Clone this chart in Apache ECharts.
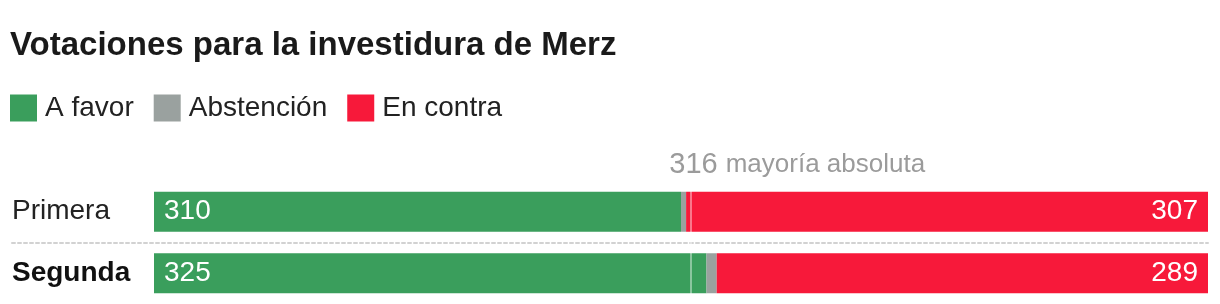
<!DOCTYPE html>
<html><head><meta charset="utf-8">
<script src="https://cdn.jsdelivr.net/npm/echarts@6/dist/echarts.min.js"></script>
<style>html,body{margin:0;padding:0;background:#fff}#c{width:1220px;height:304px}</style>
</head><body><div id="c"></div>
<script>
const titleText = 'Votaciones para la investidura de Merz';
const categories = ['Primera', 'Segunda'];
const seriesNames = ['A favor', 'Abstención', 'En contra'];
const aFavor = [310, 325];
const abstencion = [3, 6];
const enContra = [307, 289];
const totalVotes = 620;
const majority = 316;
const majorityLabel = 'mayoría absoluta';
const colors = ['#3a9e5c', '#9aa19f', '#f7193a'];

const FONT = '"Liberation Sans", Arial, Helvetica, sans-serif';
const chart = echarts.init(document.getElementById('c'), null, {renderer: 'canvas'});
chart.setOption({
  animation: false,
  textStyle: {fontFamily: FONT},
  title: {
    text: titleText, left: 10, top: 29, padding: 0,
    textStyle: {fontFamily: FONT, fontSize: 33, fontWeight: 'bold', color: '#1a1a1a'}
  },
  legend: {
    left: 10, top: 94, padding: 0, icon: 'rect', itemWidth: 27, itemHeight: 27, itemGap: 20,
    data: seriesNames,
    textStyle: {fontFamily: FONT, fontSize: 28, color: '#222', padding: [0, 0, 0, 3]}
  },
  grid: [
    {left: 154, right: 12, top: 181, height: 124, containLabel: false},
    {left: 12, right: 12, top: 243, height: 10}
  ],
  xAxis: [
    {type: 'value', min: 0, max: totalVotes, show: false, gridIndex: 0},
    {type: 'value', min: 0, max: 1, gridIndex: 1, position: 'top',
     axisLine: {show: true, onZero: false, lineStyle: {color: '#d2d2d2', width: 2, type: [3, 3]}},
     axisTick: {show: false}, axisLabel: {show: false}, splitLine: {show: false}}
  ],
  yAxis: [
    {type: 'category', data: categories, inverse: true, gridIndex: 0,
     axisLine: {show: false}, axisTick: {show: false}, splitLine: {show: false},
     axisLabel: {
       align: 'left', margin: 142,
       formatter: function (v, i) { return i === 1 ? '{b|' + v + '}' : '{r|' + v + '}'; },
       rich: {
         r: {fontFamily: FONT, fontSize: 28, color: '#222'},
         b: {fontFamily: FONT, fontSize: 28, fontWeight: 'bold', color: '#111'}
       }
     }},
    {type: 'value', gridIndex: 1, min: 0, max: 1, show: false}
  ],
  series: [
    {name: seriesNames[0], type: 'bar', stack: 'v', data: aFavor, barWidth: 40,
     itemStyle: {color: colors[0]},
     label: {show: true, position: 'insideLeft', distance: 10, color: '#fff', fontSize: 28, fontFamily: FONT}},
    {name: seriesNames[1], type: 'bar', stack: 'v', data: abstencion, barWidth: 40,
     itemStyle: {color: colors[1]}},
    {name: seriesNames[2], type: 'bar', stack: 'v', data: enContra, barWidth: 40,
     itemStyle: {color: colors[2]},
     label: {show: true, position: 'insideRight', distance: 10, color: '#fff', fontSize: 28, fontFamily: FONT},
     markLine: {
       silent: true, symbol: 'none', animation: false,
       lineStyle: {color: 'rgba(255,255,255,0.55)', width: 1.5, type: 'solid'},
       label: {
         show: true, position: 'start', distance: 2,
         formatter: '{n|' + majority + '}{t|' + majorityLabel + '}',
         padding: [0, 0, 0, 212],
         rich: {
           n: {fontFamily: FONT, fontSize: 29, color: '#9b9b9b'},
           t: {fontFamily: FONT, fontSize: 26, color: '#9b9b9b', padding: [0, 0, 0, 8]}
         }
       },
       data: [{xAxis: majority}]
     }}
  ]
});
</script></body></html>
